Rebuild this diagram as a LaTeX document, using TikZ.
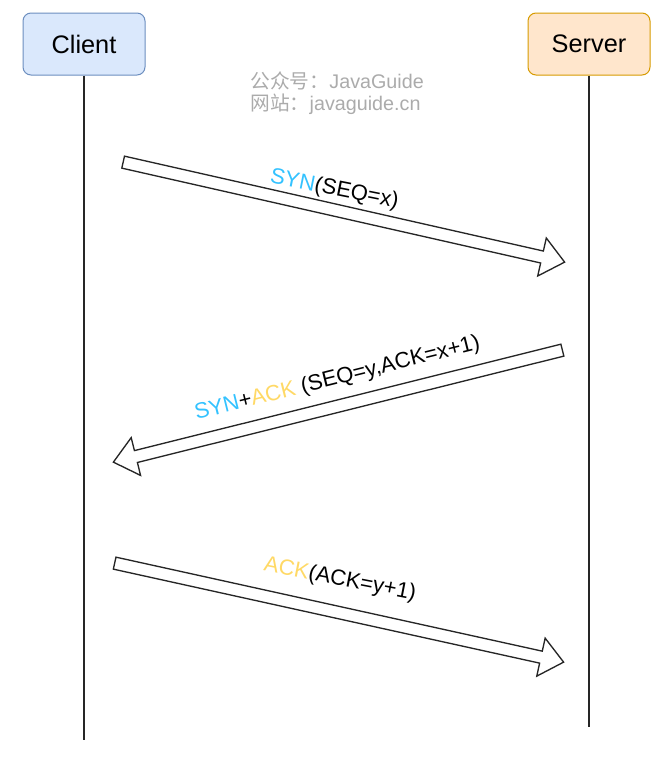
\documentclass[tikz,border=0pt]{standalone}
\usepackage{fontspec}
\setmainfont{Liberation Sans}
\newfontfamily\cjk{Noto Sans CJK SC}
\usetikzlibrary{shapes.arrows,calc}

\definecolor{clientfill}{HTML}{DAE8FC}
\definecolor{clientdraw}{HTML}{6C8EBF}
\definecolor{serverfill}{HTML}{FFE6CC}
\definecolor{serverdraw}{HTML}{D79B00}
\definecolor{synblue}{HTML}{33C2FF}
\definecolor{ackyellow}{HTML}{FFD966}
\definecolor{markgray}{HTML}{ABABAB}

\tikzset{every picture/.style={line width=0.75pt}}
\tikzset{
  hostbox/.style={draw, rounded corners=6pt, minimum width=91.5pt, minimum height=46.5pt, font=\fontsize{19}{22}\selectfont},
  lifeline/.style={line width=1.5pt, draw=black!85},
  msgarrow/.style={single arrow, draw=black!85, fill=white, line width=1pt, inner xsep=0pt, inner ysep=4.1pt,
    single arrow head extend=10pt, single arrow tip angle=80, single arrow head indent=0pt},
  msglabel/.style={font=\fontsize{16.5}{19}\selectfont, inner sep=0pt, anchor=base}
}
% hollow block arrow from tail #1 to tip #2 (yscale=-1 mirrors rotate)
\newcommand{\msg}[3]{%
  \path let \p1=($(#2)-(#1)$), \n1={atan2(\y1,\x1)}, \n2={veclen(\x1,\y1)} in
    node[msgarrow, anchor=tail, rotate=-\n1, minimum height=\n2] (#3) at (#1) {};}

\begin{document}
\begin{tikzpicture}[x=0.75pt,y=0.75pt,yscale=-1,xscale=1]
    \useasboundingbox (0,0) rectangle (668,757);
    %Shape: Rounded Rect [id:client]
    \node[hostbox, fill=clientfill, draw=clientdraw] (client) at (84,44) {Client};
    %Shape: Rounded Rect [id:server]
    \node[hostbox, fill=serverfill, draw=serverdraw] (server) at (589,44) {Server};
    %Straight Lines [id:lifelines]
    \coordinate (clientend) at (84,740);
    \coordinate (serverend) at (589,727);
    \draw[lifeline] (client) -- (clientend);
    \draw[lifeline] (server) -- (serverend);
    % Text Node
    \node[anchor=north west, align=left, text=markgray, inner sep=0pt, font=\fontsize{14.8}{16.5}\selectfont] (mark) at (250,71)
      {{\cjk 公众号：}JavaGuide\\{\cjk 网站：}javaguide.cn};

    %Shape: Right Arrow [id:syn]
    \coordinate (syntail) at (122.5,162);
    \coordinate (syntip) at (564,262);
    \msg{syntail}{syntip}{syn}
    %Shape: Left Arrow [id:synack]
    \coordinate (synacktail) at (563,350);
    \coordinate (synacktip) at (114,462);
    \msg{synacktail}{synacktip}{synack}
    %Shape: Right Arrow [id:ack]
    \coordinate (acktail) at (114,563);
    \coordinate (acktip) at (563,662);
    \msg{acktail}{acktip}{ack}

    % Text Node
    \path let \p1=($(syntip)-(syntail)$), \n1={atan2(\y1,\x1)} in
      node[msglabel, rotate=-\n1+1.5] (synlabel) at ($(syntail)!0.47!(syntip)!10.7pt!-90:(syntip)$)
      {\textcolor{synblue}{SYN}(SEQ=x)};
    % Text Node
    \path let \p1=($(synacktail)-(synacktip)$), \n1={atan2(\y1,\x1)} in
      node[msglabel, rotate=-\n1] (synacklabel) at ($(synacktail)!0.488!(synacktip)!15.8pt!90:(synacktip)$)
      {\textcolor{synblue}{SYN}+\textcolor{ackyellow}{ACK} (SEQ=y,ACK=x+1)};
    % Text Node
    \path let \p1=($(acktip)-(acktail)$), \n1={atan2(\y1,\x1)} in
      node[msglabel, rotate=-\n1+1.5] (acklabel) at ($(acktail)!0.488!(acktip)!20pt!-90:(acktip)$)
      {\textcolor{ackyellow}{ACK}(ACK=y+1)};
\end{tikzpicture}
\end{document}
